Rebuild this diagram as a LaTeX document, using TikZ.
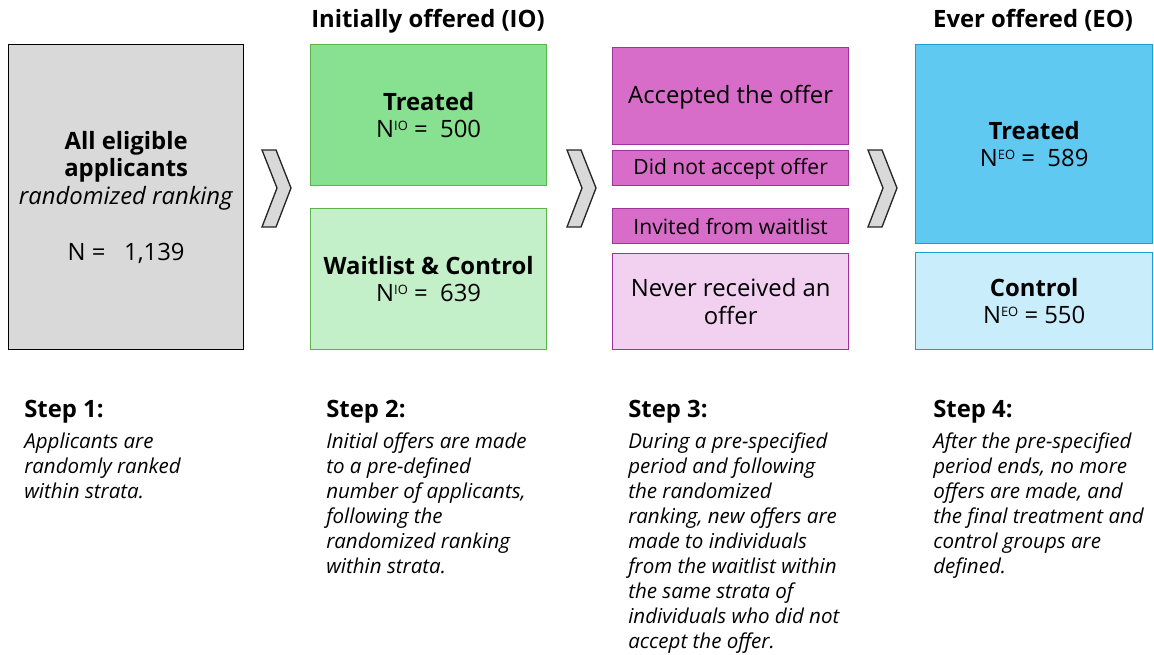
\documentclass[tikz,border=0pt]{standalone}
\usepackage{fontspec}
\setmainfont{Open Sans}
\usetikzlibrary{positioning}

\definecolor{boxgrey}{HTML}{D9D9D9}
\definecolor{greendark}{HTML}{88E190}
\definecolor{greenlight}{HTML}{C3F0C8}
\definecolor{greenline}{HTML}{5CB348}
\definecolor{purpledark}{HTML}{D76DC8}
\definecolor{purplelight}{HTML}{F1D0F0}
\definecolor{purpleline}{HTML}{A0329B}
\definecolor{bluedark}{HTML}{60C9F2}
\definecolor{bluelight}{HTML}{C9EDFB}
\definecolor{blueline}{HTML}{1E9BD7}

\newcommand{\pxu}{0.75pt}
% small superscript, top aligned with the capital N
\newcommand{\nsup}[1]{N\raisebox{5.8pt}{\fontsize{9.7}{9.7}\selectfont #1}}
\tikzset{
  flowbox/.style={draw, line width=1pt, inner sep=0pt, align=center, anchor=north west,
    font=\fontsize{17.9}{20.6}\selectfont},
  smallbox/.style={flowbox, font=\fontsize{15.8}{20.6}\selectfont},
  chevron arrow/.style={draw=black!85, fill=boxgrey, line width=1pt, line join=miter},
  steptitle/.style={anchor=base west, inner sep=0pt, font=\fontsize{17.9}{20.6}\selectfont\bfseries},
  steptext/.style={anchor=base west, inner sep=0pt, align=left, font=\fontsize{15.4}{18.75}\selectfont\itshape},
  colhead/.style={anchor=base, inner sep=0pt, font=\fontsize{17.9}{20.6}\selectfont\bfseries}
}

\begin{document}
\begin{tikzpicture}[x=0.75pt,y=-0.75pt]
\useasboundingbox (0,0) rectangle (1154,654);

% column headings
\node[colhead] (iohead) at (428,27) {Initially offered (IO)};
\node[colhead] (eohead) at (1033,27) {Ever offered (EO)};

% boxes
\node[flowbox, fill=boxgrey, draw=black, minimum width=235*\pxu, minimum height=305*\pxu] (allapp) at (8,44)
  {\textbf{All eligible}\\\textbf{applicants}\\\textit{randomized ranking}\\[21.5pt]N =\ \ \ 1,139};

\node[flowbox, fill=greendark, draw=greenline, minimum width=236*\pxu, minimum height=141*\pxu] (iotreat) at (310,44)
  {\textbf{Treated}\\\nsup{IO} =\ \ 500};
\node[flowbox, fill=greenlight, draw=greenline, minimum width=236*\pxu, minimum height=141*\pxu] (iowait) at (310,208)
  {\textbf{Waitlist \& Control}\\\nsup{IO} =\ \ 639};

\node[flowbox, fill=purpledark, draw=purpleline, minimum width=236*\pxu, minimum height=97*\pxu, text height=16pt] (accept) at (612,47)
  {Accepted the offer};
\node[smallbox, fill=purpledark, draw=purpleline, minimum width=236*\pxu, minimum height=35*\pxu, text height=13pt] (notaccept) at (612,150)
  {Did not accept offer};
\node[smallbox, fill=purpledark, draw=purpleline, minimum width=236*\pxu, minimum height=35*\pxu, text height=13pt] (invited) at (612,208)
  {Invited from waitlist};
\node[flowbox, fill=purplelight, draw=purpleline, minimum width=236*\pxu, minimum height=96*\pxu] (never) at (612,253)
  {Never received an\\offer};

\node[flowbox, fill=bluedark, draw=blueline, minimum width=237*\pxu, minimum height=199*\pxu] (eotreat) at (915,44)
  {\textbf{Treated}\\\nsup{EO} =\ \ 589};
\node[flowbox, fill=bluelight, draw=blueline, minimum width=237*\pxu, minimum height=97*\pxu] (eoctrl) at (915,252)
  {\textbf{Control}\\\nsup{EO} = 550};

% chevrons between the steps
\foreach \cx in {262,567,868}
  \draw[chevron arrow] (\cx,150) -- ++(14,0) -- ++(15,38) -- ++(-15,39) -- ++(-14,0) -- ++(15,-39) -- cycle;

% step descriptions (base = last line)
\node[steptitle] (step1) at (24,417) {Step 1:};
\node[steptext] (text1) at (24,498) {Applicants are\\randomly ranked\\within strata.};

\node[steptitle] (step2) at (326,417) {Step 2:};
\node[steptext] (text2) at (326,573) {Initial offers are made\\to a pre-defined\\number of applicants,\\following the\\randomized ranking\\within strata.};

\node[steptitle] (step3) at (628,417) {Step 3:};
\node[steptext] (text3) at (628,648) {During a pre-specified\\period and following\\the randomized\\ranking, new offers are\\made to individuals\\from the waitlist within\\the same strata of\\individuals who did not\\accept the offer.};

\node[steptitle] (step4) at (933,417) {Step 4:};
\node[steptext] (text4) at (933,573) {After the pre-specified\\period ends, no more\\offers are made, and\\the final treatment and\\control groups are\\defined.};

\end{tikzpicture}
\end{document}
